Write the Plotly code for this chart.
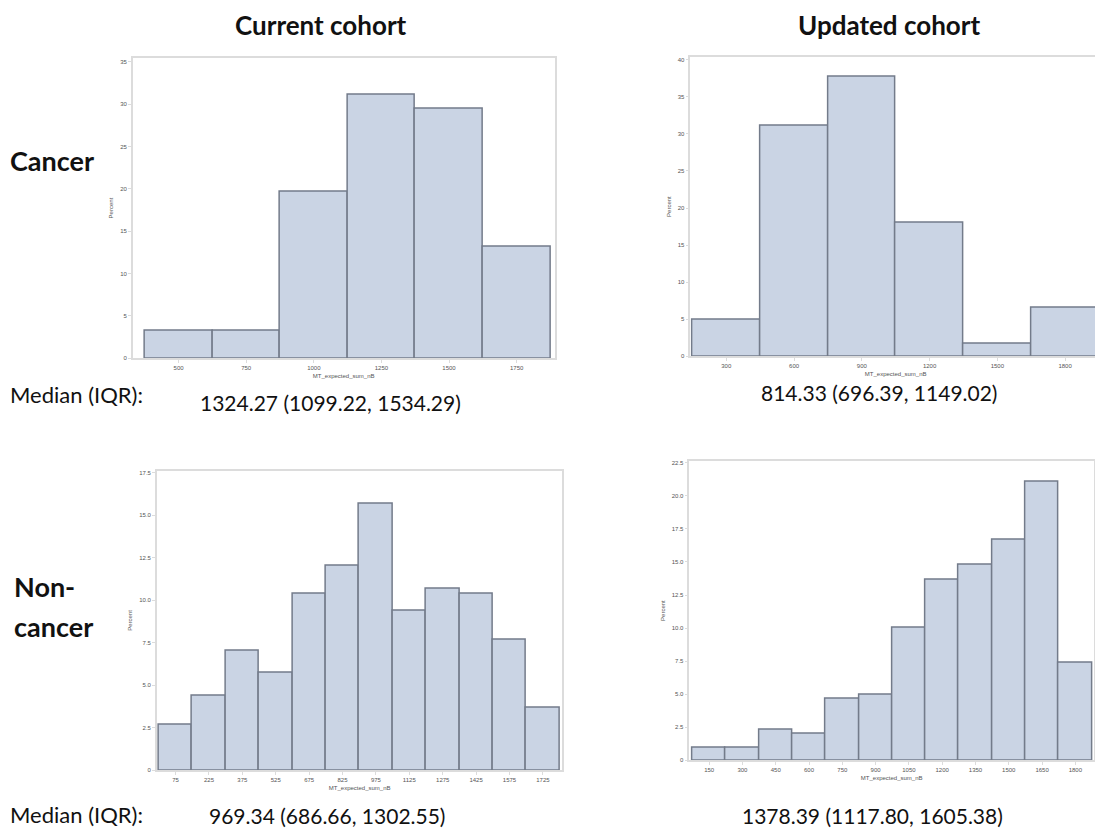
import plotly.graph_objects as go

W, H = 1103, 835      # screenshot size
OFF = 8               # page body margin in the browser

# ---------------- data ----------------
cur_cancer_centers = [500, 750, 1000, 1250, 1500, 1750]
cur_cancer_pct = [3.28, 3.28, 19.67, 31.15, 29.51, 13.11]

upd_cancer_centers = [300, 600, 900, 1200, 1500, 1800]
upd_cancer_pct = [4.92, 31.15, 37.70, 18.03, 1.64, 6.56]

cur_non_centers = [75, 225, 375, 525, 675, 825, 975, 1125, 1275, 1425, 1575, 1725]
cur_non_pct = [2.69, 4.37, 7.02, 5.73, 10.39, 12.05, 15.67, 9.36, 10.70, 10.37, 7.68, 3.68]

upd_non_centers = [150, 300, 450, 600, 750, 900, 1050, 1200, 1350, 1500, 1650, 1800]
upd_non_pct = [0.95, 0.95, 2.33, 2.00, 4.64, 4.97, 10.03, 13.67, 14.77, 16.70, 21.09, 7.37]

col_titles = ["Current cohort", "Updated cohort"]
median_texts = ["1324.27 (1099.22, 1534.29)", "814.33 (696.39, 1149.02)",
                "969.34 (686.66, 1302.55)", "1378.39 (1117.80, 1605.38)"]

FILL = "#cad4e4"
EDGE = "#737b8a"
AXCOL = "#dcdcdc"
TICKCOL = "#555555"

FW, FH = W - OFF, H - OFF

fig = go.Figure()

def px_x(x):
    return (x - OFF) / FW

def px_y(y):
    return 1 - (y - OFF) / FH

panels = [
    (cur_cancer_centers, cur_cancer_pct, 250, (133, 57, 555, 359), [331, 1890], [0, 35.47],
     [0, 5, 10, 15, 20, 25, 30, 35], ["0", "5", "10", "15", "20", "25", "30", "35"]),
    (upd_cancer_centers, upd_cancer_pct, 300, (691, 56, 1102, 357), [141, 1959], [0, 40.4],
     [0, 5, 10, 15, 20, 25, 30, 35, 40], ["0", "5", "10", "15", "20", "25", "30", "35", "40"]),
    (cur_non_centers, cur_non_pct, 150, (157, 472, 563, 773), [-9, 1813], [0, 17.61],
     [0, 2.5, 5, 7.5, 10, 12.5, 15, 17.5], ["0", "2.5", "5.0", "7.5", "10.0", "12.5", "15.0", "17.5"]),
    (upd_non_centers, upd_non_pct, 150, (690, 462, 1095, 763), [61, 1884], [0, 22.65],
     [0, 2.5, 5, 7.5, 10, 12.5, 15, 17.5, 20, 22.5],
     ["0", "2.5", "5.0", "7.5", "10.0", "12.5", "15.0", "17.5", "20.0", "22.5"]),
]

for i, (cx, vals, bw, box, xr, yr, yt, ytt) in enumerate(panels):
    n = "" if i == 0 else str(i + 1)
    l, t, r, b = box
    fig.add_trace(go.Bar(
        x=cx, y=vals, width=[bw] * len(cx),
        marker=dict(color=FILL, line=dict(color=EDGE, width=1.5)),
        xaxis="x" + n, yaxis="y" + n, showlegend=False, hoverinfo="x+y",
    ))
    fig.update_layout(**{
        "xaxis" + n: dict(
            domain=[px_x(l), min(px_x(r), 1)], range=xr, anchor="y" + n,
            tickvals=cx, ticktext=[str(v) for v in cx],
            ticks="outside", ticklen=3, tickcolor=AXCOL,
            showline=True, linecolor=AXCOL, linewidth=1.5, mirror=True,
            showgrid=False, zeroline=False,
            tickfont=dict(size=6, color=TICKCOL, family="Liberation Sans"),
            title=dict(text="MT_expected_sum_nB", standoff=4,
                       font=dict(size=6, color=TICKCOL, family="Liberation Sans")),
        ),
        "yaxis" + n: dict(
            domain=[px_y(b), px_y(t)], range=yr, anchor="x" + n,
            tickvals=yt, ticktext=ytt,
            ticks="outside", ticklen=3, tickcolor=AXCOL,
            showline=True, linecolor=AXCOL, linewidth=1.5, mirror=True,
            showgrid=False, zeroline=False,
            tickfont=dict(size=6, color=TICKCOL, family="Liberation Sans"),
            title=dict(text="Percent", standoff=6,
                       font=dict(size=6, color=TICKCOL, family="Liberation Sans")),
        ),
    })

annots = []
HEAD = "Lato"
def add_text(text, x, y, size, bold=False, xanchor="center"):
    annots.append(dict(
        text=("<b>%s</b>" % text) if bold else text,
        x=px_x(x), y=px_y(y), xref="paper", yref="paper",
        xanchor=xanchor, yanchor="middle", showarrow=False,
        borderpad=0,
        font=dict(family=HEAD, size=size, color="#111111"),
    ))

add_text(col_titles[0], 321, 24, 26, bold=True)
add_text(col_titles[1], 890, 24, 26, bold=True)
add_text("Cancer", 9, 160, 27, bold=True, xanchor="left")
add_text("Non-", 13, 588, 27, bold=True, xanchor="left")
add_text("cancer", 13, 628, 27, bold=True, xanchor="left")
add_text("Median (IQR):", 9, 395, 22, xanchor="left")
add_text("Median (IQR):", 9, 817, 22, xanchor="left")
add_text(median_texts[0], 331, 403, 21)
add_text(median_texts[1], 880, 393, 21)
add_text(median_texts[2], 327, 818, 21)
add_text(median_texts[3], 873, 818, 21)

fig.update_layout(
    width=FW, height=FH,
    margin=dict(l=0, r=0, t=0, b=0),
    paper_bgcolor="white", plot_bgcolor="white",
    annotations=annots, bargap=0,
)

fig.write_html("out.html")
